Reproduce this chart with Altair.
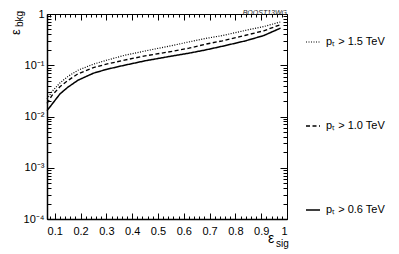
import altair as alt
import pandas as pd

# ---- data ----
series_labels = ["pₜ > 1.5 TeV", "pₜ > 1.0 TeV", "pₜ > 0.6 TeV"]
eff_sig = [0.07, 0.09, 0.12, 0.15, 0.19, 0.25, 0.30, 0.37, 0.45, 0.55, 0.62, 0.68, 0.75, 0.84, 0.91, 0.975]
bkg_pt15 = [0.022, 0.031, 0.045, 0.060, 0.080, 0.105, 0.125, 0.156, 0.19, 0.24, 0.285, 0.33, 0.38, 0.48, 0.57, 0.70]
bkg_pt10 = [0.018, 0.026, 0.038, 0.050, 0.068, 0.090, 0.105, 0.126, 0.152, 0.185, 0.215, 0.255, 0.30, 0.385, 0.47, 0.62]
bkg_pt06 = [0.013, 0.0175, 0.0275, 0.037, 0.051, 0.070, 0.083, 0.100, 0.122, 0.150, 0.172, 0.197, 0.235, 0.300, 0.380, 0.53]

x_label_values = [0.1, 0.2, 0.3, 0.4, 0.5, 0.6, 0.7, 0.8, 0.9, 1.0]
x_tick_values = [round(0.08 + 0.02 * i, 2) for i in range(47)]
y_label_values = [1e-4, 1e-3, 1e-2, 1e-1, 1.0]
y_tick_values = [m * 10.0 ** e for e in range(-4, 0) for m in range(1, 10)] + [1.0]

stamp_text = ["BOOST13WG"]

rows = []
for lab, ys in zip(series_labels, [bkg_pt15, bkg_pt10, bkg_pt06]):
    for xv, yv in zip(eff_sig, ys):
        rows.append({"sig": xv, "bkg": yv, "label": lab})
df = pd.DataFrame(rows)

W, H = 240, 205
FONT = "Liberation Sans"

xscale = alt.Scale(domain=[0.07, 1.0], nice=False, zero=False)
yscale = alt.Scale(type="log", domain=[1e-4, 1.0], nice=False)

y_label_expr = ("datum.value >= 0.999 ? '1' : '10' + ['⁻¹','⁻²','⁻³','⁻⁴']"
                "[round(-log(datum.value)/LN10) - 1]")

x_major_test = "abs(datum.value*10 - round(datum.value*10)) < 0.001"
y_major_test = "abs(log(datum.value)/LN10 - round(log(datum.value)/LN10)) < 0.001"

base = alt.Chart(df)

lines = base.mark_line(color="black").encode(
    x=alt.X("sig:Q", scale=xscale, axis=alt.Axis(
        values=x_label_values, format="~g", ticks=False, grid=False,
        domain=True, domainColor="black", domainWidth=1.5,
        labelFont=FONT, labelFontSize=11, labelColor="black", labelPadding=6,
        title=None, orient="bottom")),
    y=alt.Y("bkg:Q", scale=yscale, axis=alt.Axis(
        values=y_label_values, labelExpr=y_label_expr, ticks=False, grid=False,
        domain=True, domainColor="black", domainWidth=1.5,
        labelFont=FONT, labelFontSize=11, labelColor="black", labelPadding=3,
        title=None, orient="left")),
    strokeDash=alt.StrokeDash("label:N", scale=alt.Scale(
        domain=series_labels, range=[[1, 1.5], [4, 2.5], [1, 0]]),
        legend=alt.Legend(title=None, orient="none", legendX=258, legendY=20,
                          symbolType="stroke", symbolSize=196, symbolStrokeColor="black",
                          labelFont=FONT, labelFontSize=11, labelColor="black",
                          rowPadding=71, labelOffset=5)),
    strokeWidth=alt.StrokeWidth("label:N", scale=alt.Scale(
        domain=series_labels, range=[1.2, 1.5, 2.0]), legend=None),
    order="sig:Q",
)

def tick_layer(xorient, yorient):
    return base.mark_point(opacity=0).encode(
        x=alt.X("sig:Q", scale=xscale, axis=alt.Axis(
            values=x_tick_values, labels=False, domain=False, grid=False,
            tickColor="black", tickWidth=1,
            tickSize={"condition": {"test": x_major_test, "value": 6}, "value": 3},
            orient=xorient, offset=-H, title=None)),
        y=alt.Y("bkg:Q", scale=yscale, axis=alt.Axis(
            values=y_tick_values, labels=False, domain=False, grid=False,
            tickColor="black", tickWidth=1,
            tickSize={"condition": {"test": y_major_test, "value": 7}, "value": 4},
            orient=yorient, offset=-W, title=None)),
    )

ticks_in_bl = tick_layer("top", "right")   # sits at bottom/left, ticks inward
ticks_in_tr = tick_layer("bottom", "left")  # sits at top/right, ticks inward

stamp = alt.Chart(pd.DataFrame({"t": stamp_text})).mark_text(
    font=FONT, fontSize=7, fontStyle="italic", align="right", color="#222222"
).encode(text="t:N", x=alt.value(W), y=alt.value(-1.5))

ylab_main = alt.Chart(pd.DataFrame({"t": ["ε"]})).mark_text(
    font=FONT, fontSize=13, angle=270, color="black"
).encode(text="t:N", x=alt.value(-31), y=alt.value(18))
ylab_sub = alt.Chart(pd.DataFrame({"t": ["bkg"]})).mark_text(
    font=FONT, fontSize=10, angle=270, color="black"
).encode(text="t:N", x=alt.value(-27), y=alt.value(5))

xlab_main = alt.Chart(pd.DataFrame({"t": ["ε"]})).mark_text(
    font=FONT, fontSize=14, color="black"
).encode(text="t:N", x=alt.value(224), y=alt.value(225))
xlab_sub = alt.Chart(pd.DataFrame({"t": ["sig"]})).mark_text(
    font=FONT, fontSize=10, color="black", align="left"
).encode(text="t:N", x=alt.value(229), y=alt.value(230))

chart = alt.layer(
    lines, ticks_in_bl, ticks_in_tr, stamp, ylab_main, ylab_sub, xlab_main, xlab_sub
).resolve_axis(x="independent", y="independent").properties(
    width=W, height=H,
    autosize=alt.AutoSizeParams(type="none"),
    padding={"left": 39, "top": 6, "right": 100, "bottom": 30},
).configure_view(stroke="black", strokeWidth=1)

chart.save("out.html", embed_options={"renderer": "svg", "actions": False})
